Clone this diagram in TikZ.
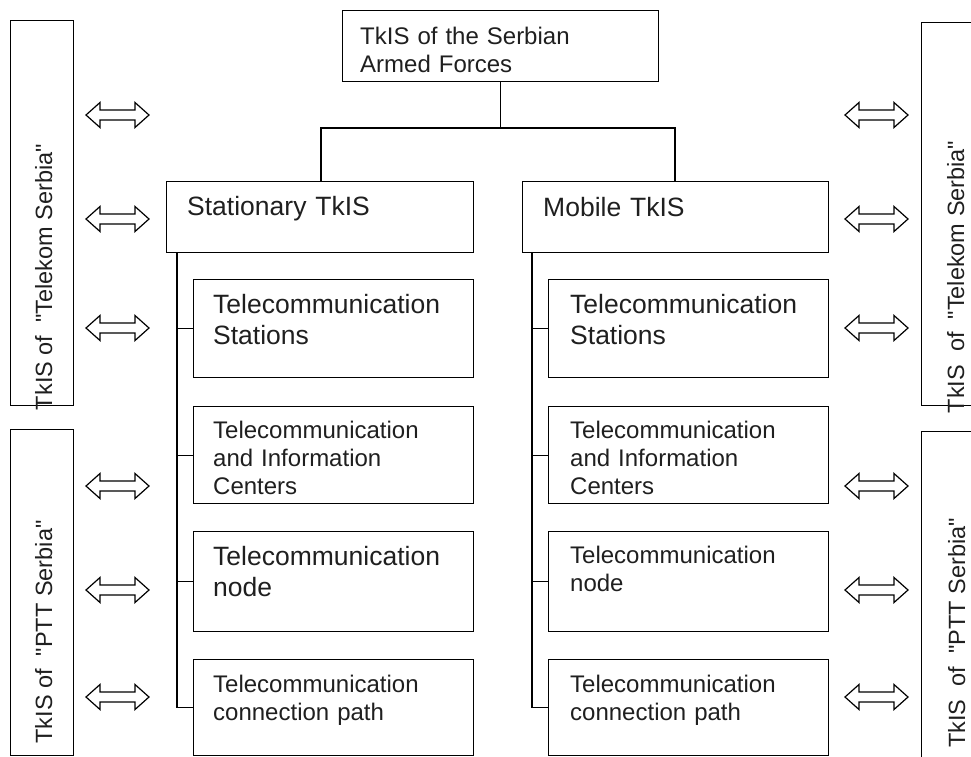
\documentclass[tikz,border=0pt]{standalone}
\usepackage{fontspec}
\setmainfont{Liberation Sans}[Ligatures=TeXOff]
\begin{document}
\begin{tikzpicture}[x=1pt,y=-1pt,
  box/.style={draw, line width=1.3pt, rectangle, inner sep=0pt, anchor=north west},
  big/.style={font=\fontsize{26.5}{31}\selectfont, anchor=base west, inner sep=0pt, text width=260pt, align=left, text=black!88},
  small/.style={font=\fontsize{24}{28}\selectfont, anchor=base west, inner sep=0pt, text width=260pt, align=left, text=black!88},
  side/.style={font=\fontsize{23.5}{28}\selectfont, anchor=base, inner sep=0pt, rotate=90, text=black!88},
  conn/.style={line width=1.3pt},
  dblarr/.pic={\draw[line width=1.2pt, line join=miter]
     (0,0) -- (14,-12.5) -- (14,-5) -- (49,-5) -- (49,-12.5) -- (63,0)
     -- (49,12.5) -- (49,5) -- (14,5) -- (14,12.5) -- cycle;}
]
\useasboundingbox (0,0) rectangle (971,756);

% side boxes
\node[box, minimum width=63, minimum height=385] (lt) at (10,20) {};
\node[box, minimum width=63, minimum height=326] (lp) at (10,429) {};
\node[box, minimum width=63, minimum height=383] (rt) at (921,22) {};
\node[box, minimum width=63, minimum height=340] (rp) at (921,431) {};
\node[side] (ltt) at (52,277) {TkIS of\ \ "Telekom Serbia"};
\node[side] (lpt) at (52,632) {TkIS of\ \ "PTT Serbia"};
\node[side] (rtt) at (964,277) {TkIS\ \ of\ \ "Telekom Serbia"};
\node[side] (rpt) at (965,633) {TkIS\ \ of\ \ "PTT Serbia"};

% arrows
\foreach \yy in {115,219,328,486,590,697}{
  \pic at (86,\yy) {dblarr};
  \pic at (845,\yy) {dblarr};
}

% top box
\node[box, minimum width=316, minimum height=71] (top) at (342,10) {};
\node[small] (topt) at (360,44) {TkIS of the Serbian\\Armed Forces};

% second level
\node[box, minimum width=307, minimum height=71] (stat) at (166,181) {};
\node[big] (statt) at (187,215) {Stationary TkIS};
\node[box, minimum width=306, minimum height=71] (mob) at (522,181) {};
\node[big] (mobt) at (543,216) {Mobile TkIS};

\coordinate (jl) at (321,128);
\coordinate (jr) at (675,128);
\draw[conn] (top.south) -- (top.south |- jl);
\draw[conn] (stat.north -| jl) -- (jl) -- (jr) -- (mob.north -| jr);

% stationary children
\node[box, minimum width=280, minimum height=98] (s1) at (193,279) {};
\node[big] (s1t) at (213,313) {Telecommunication\\Stations};
\node[box, minimum width=280, minimum height=97] (s2) at (193,406) {};
\node[small] (s2t) at (213,438) {Telecommunication\\and Information\\Centers};
\node[box, minimum width=280, minimum height=100] (s3) at (193,531) {};
\node[big] (s3t) at (213,565) {Telecommunication\\node};
\node[box, minimum width=280, minimum height=96] (s4) at (193,659) {};
\node[small] (s4t) at (213,692) {Telecommunication\\connection path};

% mobile children
\node[box, minimum width=280, minimum height=98] (m1) at (548,279) {};
\node[big] (m1t) at (570,313) {Telecommunication\\Stations};
\node[box, minimum width=280, minimum height=97] (m2) at (548,406) {};
\node[small] (m2t) at (570,438) {Telecommunication\\and Information\\Centers};
\node[box, minimum width=280, minimum height=100] (m3) at (548,531) {};
\node[small] (m3t) at (570,563) {Telecommunication\\node};
\node[box, minimum width=280, minimum height=96] (m4) at (548,659) {};
\node[small] (m4t) at (570,692) {Telecommunication\\connection path};

% trunks
\coordinate (st) at (177,252);
\coordinate (mt) at (532,252);
\draw[conn] (st) |- (s4.west);
\draw[conn] (st |- s1.west) -- (s1.west);
\draw[conn] (st |- s2.west) -- (s2.west);
\draw[conn] (st |- s3.west) -- (s3.west);
\draw[conn] (mt) |- (m4.west);
\draw[conn] (mt |- m1.west) -- (m1.west);
\draw[conn] (mt |- m2.west) -- (m2.west);
\draw[conn] (mt |- m3.west) -- (m3.west);
\end{tikzpicture}
\end{document}
